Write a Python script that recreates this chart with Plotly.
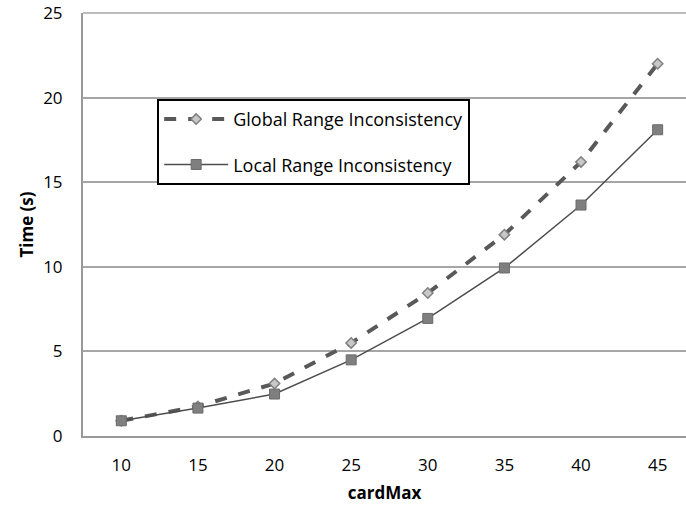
import plotly.graph_objects as go

card_max = ["10", "15", "20", "25", "30", "35", "40", "45"]
global_range = [0.9, 1.75, 3.1, 5.5, 8.45, 11.9, 16.2, 22.0]
local_range = [0.9, 1.65, 2.48, 4.5, 6.95, 9.93, 13.65, 18.1]

font = "'Open Sans', Lato, sans-serif"

fig = go.Figure()
fig.add_trace(go.Scatter(
    x=card_max, y=global_range, mode="lines+markers",
    name="Global Range Inconsistency", legendgroup="g",
    line=dict(color="#595959", width=4, dash="dash"),
    marker=dict(symbol="diamond", size=8, color="#c8c8c8",
                line=dict(color="#808080", width=1.5)),
))
fig.add_trace(go.Scatter(
    x=card_max, y=local_range, mode="lines+markers",
    name="Local Range Inconsistency", legendgroup="l",
    line=dict(color="#4d4d4d", width=1.5),
    marker=dict(symbol="square", size=10, color="#7f7f7f",
                line=dict(color="#6b6b6b", width=1)),
))

fig.update_layout(
    width=686, height=512,
    margin=dict(l=83, r=0, t=13, b=76),
    plot_bgcolor="white", paper_bgcolor="white",
    font=dict(family=font, size=17, color="#000000"),
    legend=dict(
        x=0.123, y=0.797, xanchor="left", yanchor="top",
        bordercolor="#000000", borderwidth=2, bgcolor="white",
        font=dict(size=18), traceorder="grouped", tracegroupgap=19,
        itemwidth=64,
    ),
    xaxis=dict(
        type="category", range=[-0.5, 7.37],
        showline=True, linecolor="#999999", linewidth=2,
        showgrid=False, ticks="", ticklabelstandoff=13,
        title=dict(text="<b>cardMax</b>", font=dict(size=17), standoff=12),
    ),
    yaxis=dict(
        range=[0, 25], tickvals=[0, 5, 10, 15, 20, 25],
        showline=True, linecolor="#999999", linewidth=2,
        gridcolor="#a6a6a6", gridwidth=1.5, zeroline=False,
        ticks="", ticklabelstandoff=15,
        title=dict(text="<b>Time (s)</b>", font=dict(size=17), standoff=5),
    ),
)

# top border of the plot area (Excel draws the 25 gridline there)
fig.add_shape(type="line", xref="paper", yref="paper", x0=0, x1=1, y0=1, y1=1,
              line=dict(color="#a6a6a6", width=1.5), layer="below")

# drop the default body margin so the figure sits at the window corner
fig.write_html("out.html", config={"displayModeBar": False},
               post_script="document.body.style.margin='0';")
